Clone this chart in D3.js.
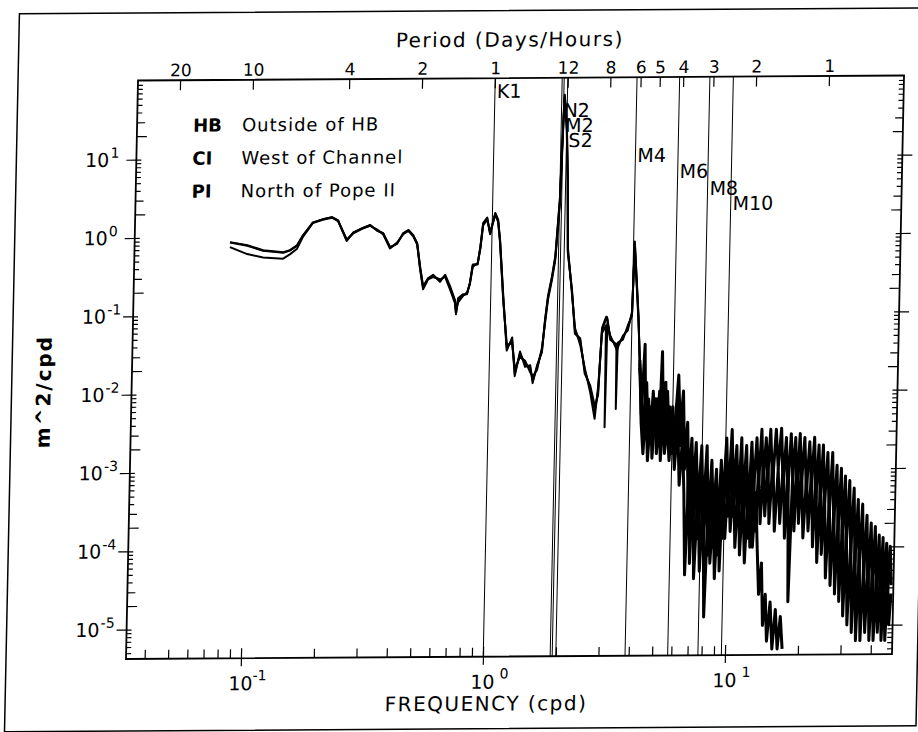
<!DOCTYPE html>
<html><head><meta charset="utf-8">
<script src="https://cdn.jsdelivr.net/npm/d3@7/dist/d3.min.js"></script>
<style>
body{margin:0;background:#fff}
text{font-family:"DejaVu Sans",sans-serif;fill:#000}
</style>
</head><body>
<svg id="c" width="918" height="732"></svg>
<script>
// ---------------- DATA ----------------
// low / mid frequency part (cpd) shared by the three sites
const freqLow = [0.083,0.098,0.114,0.138,0.147,0.157,0.166,0.182,0.200,0.218,
  0.231,0.252,0.268,0.291,0.314,0.336,0.356,0.381,0.407,0.431,
  0.452,0.474,0.493,0.509,0.526,0.551,0.577,0.617,0.647,0.679,
  0.714,0.723,0.735,0.769,0.80,0.82,0.84,0.88,0.90,0.92,
  0.955,0.985,1.03,1.06,1.084,1.13,1.18,1.24,1.28,1.34,
  1.41,1.48,1.52,1.58,1.65,1.69,1.73,1.79,1.84,1.90,
  1.92,1.94,1.95,2.00,2.04,2.07,2.17,2.25,2.37,2.49,
  2.63,2.76,2.84,2.91,3.02,3.04,3.06,3.15,3.35,3.37,3.39,3.56,3.72,3.86,
  3.91,4.11,4.2];
const hbLow = [0.87,0.79,0.68,0.64,0.68,0.78,1.05,1.53,1.67,1.77,
  1.61,0.90,1.13,1.27,1.39,1.19,1.09,0.72,0.81,1.09,
  1.19,1.02,0.81,0.40,0.22,0.29,0.31,0.27,0.31,0.22,
  0.15,0.102,0.15,0.173,0.183,0.246,0.42,0.44,0.71,1.43,
  1.66,1.06,1.92,1.56,0.86,0.16,0.037,0.046,0.0173,0.031,
  0.023,0.0206,0.0141,0.0206,0.034,0.082,0.161,0.29,0.52,2.76,
  12,39,60,25,5.0,0.63,0.195,0.060,0.045,0.0186,
  0.0112,0.0057,0.0103,0.060,0.085,0.088,0.08,0.049,0.038,0.036,0.04,0.049,0.065,0.098,
  0.77,0.087,0.0225];
const ciLow = [0.75,0.61,0.55,0.53,0.60,0.70,1.0,1.5,1.65,1.75,
  1.58,0.92,1.10,1.25,1.37,1.22,1.06,0.70,0.83,1.06,
  1.17,1.0,0.78,0.38,0.21,0.28,0.30,0.28,0.30,0.21,
  0.14,0.11,0.14,0.17,0.19,0.24,0.40,0.45,0.68,1.35,
  1.6,1.12,1.85,1.5,0.82,0.15,0.040,0.042,0.020,0.028,
  0.025,0.018,0.016,0.019,0.037,0.075,0.15,0.27,0.48,2.4,
  10,35,55,22,4.5,0.7,0.18,0.065,0.040,0.020,
  0.010,0.0045,0.012,0.055,0.07,0.0035,0.075,0.052,0.035,0.033,0.036,0.052,0.060,0.105,
  0.70,0.08,0.025];
const piLow = [0.86,0.78,0.67,0.63,0.67,0.77,1.04,1.52,1.68,1.78,
  1.62,0.88,1.12,1.28,1.4,1.18,1.1,0.73,0.8,1.1,
  1.2,1.03,0.80,0.41,0.23,0.29,0.32,0.26,0.32,0.23,
  0.15,0.10,0.16,0.18,0.18,0.25,0.43,0.43,0.73,1.45,
  1.7,1.04,1.95,1.6,0.88,0.17,0.034,0.05,0.016,0.033,
  0.021,0.022,0.013,0.022,0.032,0.085,0.17,0.30,0.55,3.0,
  13,42,62,27,5.5,0.6,0.2,0.055,0.048,0.017,
  0.012,0.0065,0.009,0.065,0.09,0.09,0.085,0.046,0.04,0.006,0.042,0.046,0.07,0.092,
  0.82,0.09,0.02];

// high frequency (noisy) part
const freqHigh = [4.3,4.4,4.5,4.6,4.7,4.8,4.9,5.0,5.1,5.2,
  5.3,5.4,5.5,5.65,5.8,5.95,6.1,6.25,6.4,6.55,
  6.7,6.85,7.0,7.15,7.3,7.5,7.7,7.9,8.1,8.3,
  8.5,8.7,8.9,9.1,9.3,9.5,9.75,10.0,10.25,10.5,
  10.75,11.0,11.25,11.5,11.8,12.1,12.4,12.7,13.0,13.3,
  13.6,13.9,14.2,14.5,14.8,15.2,15.6,16.0,16.4,16.8,
  17.2,17.6,18.0,18.4,18.8,19.2,19.6,20.0,20.5,21.0,
  21.5,22.0,22.5,23.0,23.5,24.0,24.5,25.0,25.6,26.2,
  26.8,27.4,28.0,28.6,29.2,29.8,30.4,31.0,31.7,32.4,
  33.1,33.8,34.5,35.2,36.0,36.8,37.6,38.4,39.2,40.0,
  40.8,41.6,42.4,43.2,44.0,44.8,45.6,46.4,47.2,48.0];
const hbHigh = [5e-3,4e-2,3.2e-3,8e-3,2.5e-3,1e-2,4e-3,8e-3,2e-3,3.2e-2,
  5e-3,1.3e-2,2.5e-3,6.3e-3,1.6e-3,4e-3,1.6e-2,3.2e-3,1e-2,1.3e-3,
  4e-3,6.3e-4,2.5e-3,5e-4,2.2e-3,3.2e-4,2e-3,2.5e-4,2e-3,2e-4,
  1.3e-3,2.5e-4,1e-3,1.6e-4,1.3e-3,3.2e-4,2.5e-3,4e-4,3.2e-3,5e-4,
  2e-3,3.2e-4,2.5e-3,4e-4,2e-3,2.5e-4,2.2e-3,5e-4,2.5e-3,6.3e-4,
  3.2e-3,6.3e-4,2.5e-3,8e-4,3.2e-3,6.3e-4,3.2e-3,1e-3,3.3e-3,6.3e-4,
  2.5e-3,5e-4,2.8e-3,8e-4,2.5e-3,5e-4,2.8e-3,6.3e-4,2.5e-3,5e-4,
  2.2e-3,6.3e-4,2.5e-3,4e-4,2e-3,4e-4,2e-3,3.2e-4,1.6e-3,2.5e-4,
  1.6e-3,2e-4,1.1e-3,1.6e-4,1e-3,1.3e-4,8e-4,1e-4,7e-4,8e-5,
  5.6e-4,6.3e-5,4e-4,5e-5,3.5e-4,4e-5,2.5e-4,3.2e-5,2e-4,3.2e-5,
  1.8e-4,2.5e-5,1.4e-4,2.5e-5,1.3e-4,2e-5,1.1e-4,2.5e-5,1e-4,3.2e-5];
const ciHigh = [4e-3,1.6e-3,6.3e-3,1.3e-3,5e-3,2e-3,8e-3,1.6e-3,5e-3,1.3e-3,
  6.3e-3,1.6e-3,4e-3,1.3e-3,5e-3,1e-3,4e-3,6.3e-4,2.5e-3,5e-4,
  4.5e-5,1e-3,6.3e-5,8e-4,4e-5,6.3e-4,5e-5,4e-4,1.3e-5,5e-4,
  6.3e-5,3.2e-4,4e-5,5e-4,5e-5,6.3e-4,1.3e-4,1e-3,1.6e-4,8e-4,
  1e-4,6.3e-4,8e-5,5e-4,6.3e-5,6.3e-4,1e-4,8e-4,1.6e-4,1e-3,
  2e-4,1e-3,2.5e-4,1.3e-3,2e-4,1.3e-3,1.6e-4,1e-3,2e-4,1.3e-3,
  1.3e-4,1e-3,2e-5,1e-3,1.6e-4,1.3e-3,2e-4,1e-3,1.3e-4,8e-4,
  1.6e-4,1e-3,1e-4,8e-4,6.3e-5,6.3e-4,8e-5,5e-4,4e-5,4e-4,
  3.2e-5,3.2e-4,2.5e-5,2.5e-4,2e-5,2e-4,1.3e-5,1.6e-4,1e-5,1.3e-4,
  8e-6,1e-4,6.3e-6,8e-5,6.3e-6,6.3e-5,8e-6,6.3e-5,6.3e-6,5e-5,
  6.3e-6,4e-5,8e-6,5e-5,6.3e-6,4e-5,6.3e-6,3.2e-5,1e-5,2.5e-5];
const freqPI = freqHigh.slice(0, 61);
const piHigh = [1e-2,2.5e-3,1.3e-2,3.2e-3,6.3e-3,1.4e-3,5e-3,2.5e-3,1e-2,2e-3,
  8e-3,2.5e-3,1e-2,2e-3,6.3e-3,1.3e-3,8e-3,2e-3,5e-3,1e-3,
  2.5e-3,2.5e-4,1.3e-3,1.6e-4,1e-3,1.3e-4,8e-4,1e-4,6.3e-4,8e-5,
  8e-4,1e-4,6.3e-4,8e-5,8e-4,1.3e-4,1.3e-3,2.5e-4,1.6e-3,2.5e-4,
  1.3e-3,2e-4,1.3e-3,1.6e-4,1e-3,1.3e-4,1.3e-3,1e-4,5e-4,1e-4,
  2.5e-5,6.3e-5,1e-5,2.5e-5,6.3e-6,2e-5,5e-6,1.6e-5,5e-6,1.3e-5,
  5e-6];

const constituentNames = ["K1","N2","M2","S2","M4","M6","M8","M10"];
const constituentFreqs = [1.0027,1.8960,1.9323,2.0,3.8645,5.7968,7.7290,9.6613];
const periodLabels = ["20","10","4","2","1","12","8","6","5","4","3","2","1"];
const periodHours  = [480,240,96,48,24,12,8,6,5,4,3,2,1];
const legendCodes = ["HB","CI","PI"];
const legendNames = ["Outside of HB","West of Channel","North of Pope II"];
const xTickExps = [-1,0,1];
const yTickExps = [-5,-4,-3,-2,-1,0,1];

// ---------------- LAYOUT ----------------
const W=918,H=732;
const L=126,R=892,T=80.5,B=659;
const x=d3.scaleLog().domain([0.0335,49]).range([L,R]);
const y=d3.scaleLog().domain([4.22e-6,102.5]).range([B,T]);

const svg=d3.select("#c");
svg.append("rect").attr("width",W).attr("height",H).attr("fill","#fff");
// the scanned original is slightly skewed
const g=svg.append("g").attr("transform","matrix(1,-0.0065,-0.0208,1,13.69,0.819)");

// outer frame
g.append("rect").attr("x",6).attr("y",13).attr("width",911.5).attr("height",718)
  .attr("fill","none").attr("stroke","#000").attr("stroke-width",1.5);

g.append("defs").append("clipPath").attr("id","clip")
  .append("rect").attr("x",L).attr("y",T).attr("width",R-L).attr("height",B-T);

// tick value sets
const minorX=[], minorY2=[], minorY3=[], minorYo=[];
for(let e=-2;e<=1;e++) for(let k=2;k<=9;k++){const v=k*Math.pow(10,e); if(v>x.domain()[0]&&v<x.domain()[1]) minorX.push(v);}
for(let e=-6;e<=2;e++) for(let k=2;k<=9;k++){const v=k*Math.pow(10,e); if(v>y.domain()[0]&&v<y.domain()[1]){ (k===2?minorY2:k===3?minorY3:minorYo).push(v);} }
const majorX=xTickExps.map(e=>Math.pow(10,e));
const majorY=yTickExps.map(e=>Math.pow(10,e));

function ax(gen, tx, ty){
  const a=g.append("g").attr("transform",`translate(${tx},${ty})`).call(gen);
  a.select(".domain").remove();
  a.selectAll("line").attr("stroke","#000").attr("stroke-width",1.2);
  return a;
}
// bottom
ax(d3.axisBottom(x).tickValues(minorX).tickSize(-9).tickFormat(""),0,B);
ax(d3.axisBottom(x).tickValues(majorX).tickSize(-10).tickFormat(""),0,B);
ax(d3.axisBottom(x).tickValues(majorX).tickSize(8).tickFormat(""),0,B);
// top (period)
const topAx=ax(d3.axisTop(x).tickValues(periodHours.map(h=>24/h)).tickSize(-10).tickPadding(4)
  .tickFormat((d,i)=>periodLabels[i]),0,T);
topAx.selectAll("text").attr("font-family","DejaVu Sans").attr("font-size",17).attr("fill","#000");
// left & right
[[d3.axisLeft,L],[d3.axisRight,R]].forEach(([fn,px])=>{
  ax(fn(y).tickValues(majorY).tickSize(10).tickFormat(""),px,0);
  ax(fn(y).tickValues(majorY).tickSize(-5).tickFormat(""),px,0);
  ax(fn(y).tickValues(minorY2).tickSize(-10).tickFormat(""),px,0);
  ax(fn(y).tickValues(minorY3).tickSize(-8).tickFormat(""),px,0);
  ax(fn(y).tickValues(minorYo).tickSize(-5).tickFormat(""),px,0);
});

// constituent lines
g.append("g").selectAll("line").data(constituentFreqs).join("line")
  .attr("x1",d=>x(d)).attr("x2",d=>x(d)).attr("y1",T).attr("y2",B)
  .attr("stroke","#000").attr("stroke-width",1);
const labelBase=[100.3,119.8,134.8,149.8,165.3,181.5,198.7,213.9];
g.append("g").selectAll("text").data(constituentNames).join("text")
  .attr("x",(d,i)=>x(constituentFreqs[i])+2).attr("y",(d,i)=>labelBase[i])
  .attr("font-size",19).text(d=>d);

// spectra: smooth part drawn thinner, dense noisy part heavier (as printed)
const line=d3.line().x(d=>x(d[0])).y(d=>y(d[1]));
const nL=freqLow.length;
const lowParts=[d3.zip(freqLow,hbLow), d3.zip(freqLow,ciLow), d3.zip(freqLow,piLow)];
const highParts=[
  [[freqLow[nL-1],hbLow[nL-1]]].concat(d3.zip(freqHigh,hbHigh)),
  [[freqLow[nL-1],ciLow[nL-1]]].concat(d3.zip(freqHigh,ciHigh)),
  [[freqLow[nL-1],piLow[nL-1]]].concat(d3.zip(freqPI,piHigh))
];
const plot=g.append("g").attr("clip-path","url(#clip)");
plot.selectAll("path.lo").data(lowParts).join("path").attr("class","lo")
  .attr("d",line).attr("fill","none").attr("stroke","#000").attr("stroke-width",2)
  .attr("stroke-linejoin","round");
plot.selectAll("path.hi").data(highParts).join("path").attr("class","hi")
  .attr("d",line).attr("fill","none").attr("stroke","#000").attr("stroke-width",3)
  .attr("stroke-linejoin","round");

// plot border
g.append("rect").attr("x",L).attr("y",T).attr("width",R-L).attr("height",B-T)
  .attr("fill","none").attr("stroke","#000").attr("stroke-width",1.8);

// x tick labels
xTickExps.forEach(e=>{
  const px=x(Math.pow(10,e));
  g.append("text").attr("x",px).attr("y",B+32).attr("text-anchor","middle").attr("font-size",19).text("10");
  g.append("text").attr("x",px+26).attr("y",B+22).attr("text-anchor","end").attr("font-size",14).text(String(e));
});
// y tick labels
yTickExps.forEach(e=>{
  const py=y(Math.pow(10,e));
  g.append("text").attr("x",L-27).attr("y",py+7).attr("text-anchor","end").attr("font-size",19).text("10");
  g.append("text").attr("x",L-26).attr("y",py-2).attr("text-anchor","start").attr("font-size",14).text(String(e));
});

// titles
g.append("text").attr("x",497).attr("y",49).attr("text-anchor","middle").attr("font-size",20)
  .attr("letter-spacing",1.5).text("Period (Days/Hours)");
g.append("text").attr("x",487).attr("y",713).attr("text-anchor","middle").attr("font-size",20)
  .attr("letter-spacing",1.5).text("FREQUENCY (cpd)");
g.append("text").attr("transform","translate(45,391) rotate(-90)").attr("text-anchor","middle")
  .attr("font-size",20).attr("font-weight","bold").attr("letter-spacing",2).text("m^2/cpd");

// legend
const legBase=[132,165,198];
legendCodes.forEach((c,i)=>{
  g.append("text").attr("x",182).attr("y",legBase[i]).attr("font-size",18).attr("font-weight","bold").text(c);
  g.append("text").attr("x",231).attr("y",legBase[i]).attr("font-size",18).attr("letter-spacing",1).text(legendNames[i]);
});
</script>
</body></html>
